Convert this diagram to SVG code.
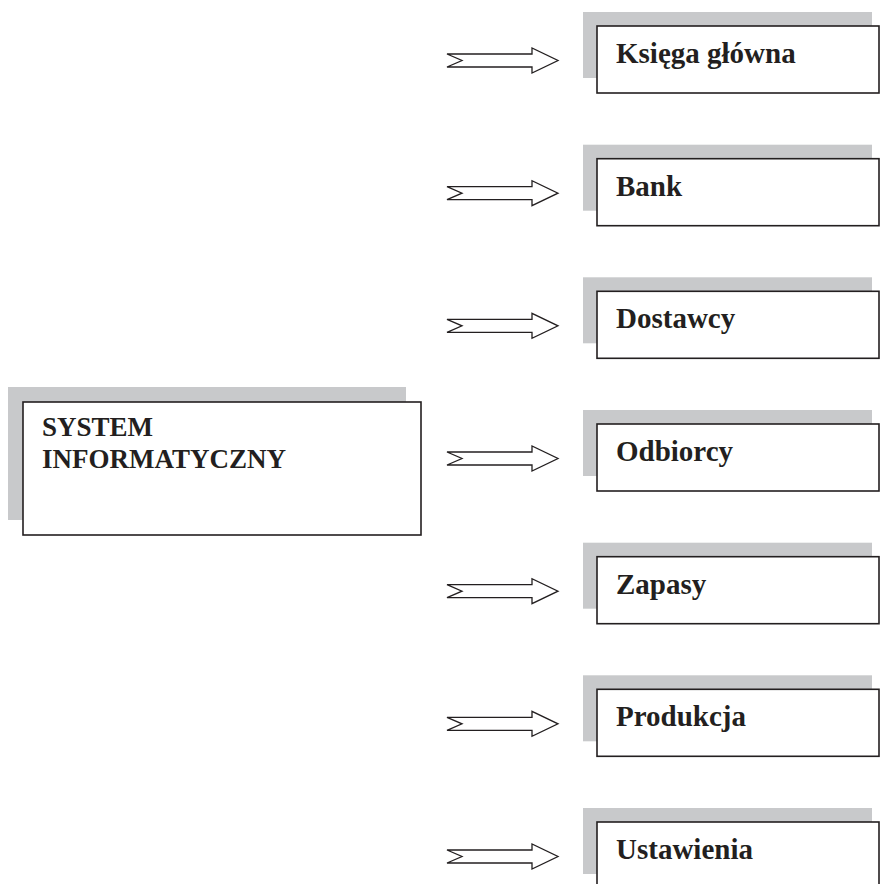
<svg xmlns="http://www.w3.org/2000/svg" width="880" height="884" viewBox="0 0 880 884">
<style>
.sh{fill:#c8c9cb;stroke:none}
.bx{fill:#fff;stroke:#231f20;stroke-width:1.6}
.t{font-family:"Liberation Serif","Times New Roman",serif;font-weight:bold;fill:#231f20}
.r{font-size:29px}
.m{font-size:27px}
.ar{fill:#fff;stroke:#231f20;stroke-width:1.3;stroke-linejoin:miter}
</style>
<defs>
<path id="arrow" class="ar" d="M447,-6.5 L532,-6.5 L532,-12.5 L558,0 L532,12.5 L532,6.5 L447,6.5 L462,0 Z"/>
</defs>
<rect width="880" height="884" fill="#fff"/>
<g id="system">
<rect class="sh" x="8" y="387" width="398" height="133"/>
<rect class="bx" x="23" y="402" width="398" height="133"/>
<text class="t m" x="42" y="436">SYSTEM</text>
<text class="t m" x="42" y="468">INFORMATYCZNY</text>
</g>
<g id="connectors">
<use href="#arrow" y="60.5"/>
<use href="#arrow" y="193.2"/>
<use href="#arrow" y="325.8"/>
<use href="#arrow" y="458.5"/>
<use href="#arrow" y="591.2"/>
<use href="#arrow" y="723.8"/>
<use href="#arrow" y="856.5"/>
</g>
<g id="ksiega">
<rect class="sh" x="583" y="12" width="289" height="66"/>
<rect class="bx" x="597" y="26" width="282" height="67"/>
<text class="t r" x="616" y="63">Księga główna</text>
</g>
<g id="bank">
<rect class="sh" x="583" y="144.7" width="289" height="66"/>
<rect class="bx" x="597" y="158.7" width="282" height="67"/>
<text class="t r" x="616" y="195.7">Bank</text>
</g>
<g id="dostawcy">
<rect class="sh" x="583" y="277.3" width="289" height="66"/>
<rect class="bx" x="597" y="291.3" width="282" height="67"/>
<text class="t r" x="616" y="328.3">Dostawcy</text>
</g>
<g id="odbiorcy">
<rect class="sh" x="583" y="410" width="289" height="66"/>
<rect class="bx" x="597" y="424" width="282" height="67"/>
<text class="t r" x="616" y="461">Odbiorcy</text>
</g>
<g id="zapasy">
<rect class="sh" x="583" y="542.7" width="289" height="66"/>
<rect class="bx" x="597" y="556.7" width="282" height="67"/>
<text class="t r" x="616" y="593.7">Zapasy</text>
</g>
<g id="produkcja">
<rect class="sh" x="583" y="675.3" width="289" height="66"/>
<rect class="bx" x="597" y="689.3" width="282" height="67"/>
<text class="t r" x="616" y="726.3">Produkcja</text>
</g>
<g id="ustawienia">
<rect class="sh" x="583" y="808" width="289" height="66"/>
<rect class="bx" x="597" y="822" width="282" height="67"/>
<text class="t r" x="616" y="859">Ustawienia</text>
</g>
</svg>
